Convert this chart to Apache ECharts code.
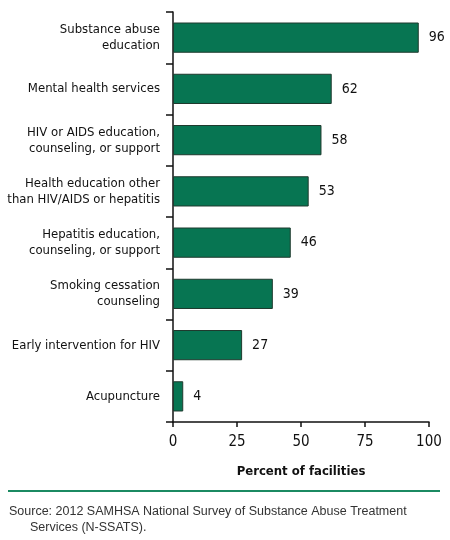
<!DOCTYPE html>
<html>
<head>
<meta charset="utf-8">
<script src="https://cdn.jsdelivr.net/npm/echarts@6/dist/echarts.min.js"></script>
<style>
  html, body { margin: 0; padding: 0; background: #fff; }
  #main { width: 450px; height: 540px; }
</style>
</head>
<body>
<div id="main"></div>
<script>
const categories = [
  "Substance abuse\neducation",
  "Mental health services",
  "HIV or AIDS education,\ncounseling, or support",
  "Health education other\nthan HIV/AIDS or hepatitis",
  "Hepatitis education,\ncounseling, or support",
  "Smoking cessation\ncounseling",
  "Early intervention for HIV",
  "Acupuncture",
];
const values = [96, 62, 58, 53, 46, 39, 27, 4];

const narrow = "'Liberation Sans Narrow', 'DejaVu Sans Condensed', sans-serif";

const myChart = echarts.init(document.getElementById("main"));

myChart.setOption({
  animation: false,
  grid: { left: 173, right: 21, top: 12, bottom: 118, outerBoundsMode: "none", containLabel: false },
  xAxis: {
    type: "value",
    min: 0,
    max: 100,
    interval: 25,
    name: "Percent of facilities",
    nameLocation: "middle",
    nameGap: 43,
    nameTextStyle: { color: "#111", fontSize: 13, fontWeight: "bold", fontFamily: narrow },
    splitLine: { show: false },
    axisLine: { show: true, lineStyle: { color: "#111", width: 1.5 } },
    axisTick: { show: true, length: 5, lineStyle: { color: "#111", width: 1.5 } },
    axisLabel: { color: "#111", fontSize: 15, fontFamily: narrow, margin: 13 },
  },
  yAxis: {
    type: "category",
    data: categories,
    inverse: true,
    axisLine: { lineStyle: { color: "#111", width: 1.5 } },
    axisTick: { show: true, length: 7, lineStyle: { color: "#111", width: 1.5 } },
    axisLabel: {
      color: "#111",
      fontSize: 13,
      fontFamily: narrow,
      margin: 13,
      lineHeight: 16,
      align: "right",
    },
  },
  series: [
    {
      type: "bar",
      data: values,
      barCategoryGap: "41%",
      itemStyle: { color: "#077552", borderColor: "#1f3a2e", borderWidth: 1 },
      label: {
        show: true,
        position: "right",
        distance: 10,
        color: "#111",
        fontSize: 14,
        fontFamily: narrow,
      },
    },
  ],
  graphic: [
    {
      type: "rect",
      shape: { x: 8, y: 490, width: 432, height: 2 },
      style: { fill: "#1b8a62" },
    },
    {
      type: "text",
      left: 9,
      top: 505,
      style: {
        text: "Source: 2012 SAMHSA National Survey of Substance Abuse Treatment",
        fill: "#333",
        font: "12.5px 'Liberation Sans', Arial, sans-serif",
      },
    },
    {
      type: "text",
      left: 30,
      top: 521,
      style: {
        text: "Services (N-SSATS).",
        fill: "#333",
        font: "12.5px 'Liberation Sans', Arial, sans-serif",
      },
    },
  ],
});
</script>
</body>
</html>
